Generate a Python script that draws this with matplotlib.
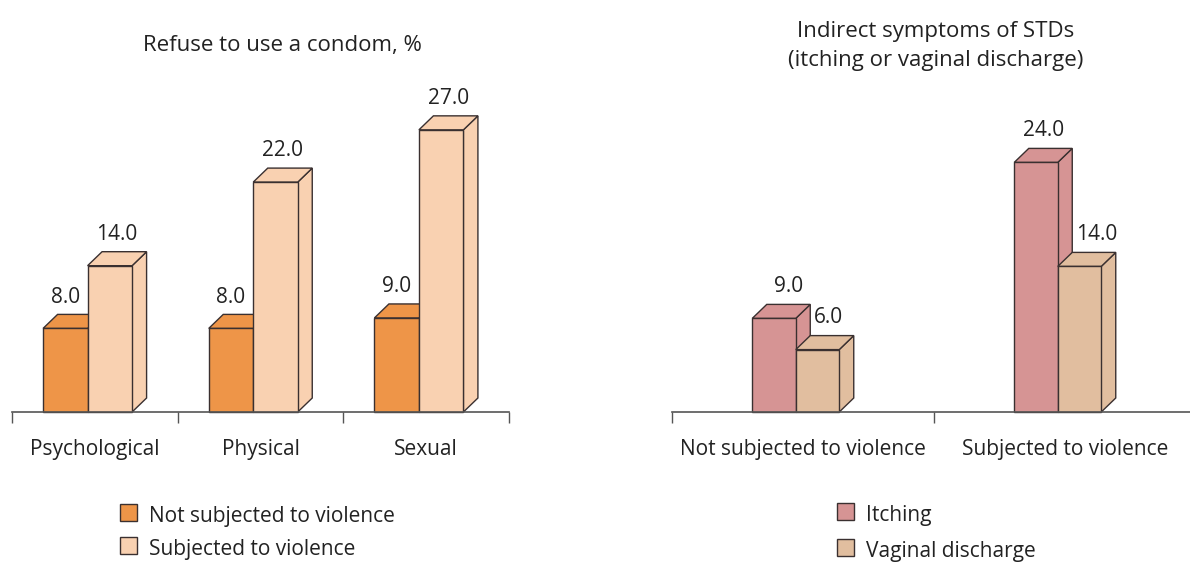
import matplotlib.pyplot as plt
from matplotlib.patches import Polygon, Rectangle

plt.rcParams['font.family'] = ['Open Sans', 'DejaVu Sans']

# Data
left_cats = ['Psychological', 'Physical', 'Sexual']
left_series = ['Not subjected to violence', 'Subjected to violence']
left_not = [8.0, 8.0, 9.0]
left_sub = [14.0, 22.0, 27.0]

right_cats = ['Not subjected to violence', 'Subjected to violence']
right_series = ['Itching', 'Vaginal discharge']
right_itch = [9.0, 24.0]
right_vag = [6.0, 14.0]

left_colors = ['#EE9548', '#F9D1B1']
right_colors = ['#D69494', '#E1BE9F']
edge = '#3a3030'
txt = '#222222'
fs = 15

W, H = 1190, 563
fig = plt.figure(figsize=(W / 100, H / 100), dpi=100)


def px_axes(x0, x1, base, ppu, ymax=30):
    # axes placed in pixel terms, baseline at 'base' px from top
    h = ymax * ppu
    return fig.add_axes([x0 / W, (H - base) / H, (x1 - x0) / W, h / H])


def bar3d(ax, x, w, h, dx, dy, color):
    front = [(x, 0), (x + w, 0), (x + w, h), (x, h)]
    top = [(x, h), (x + dx, h + dy), (x + w + dx, h + dy), (x + w, h)]
    side = [(x + w, 0), (x + w + dx, dy), (x + w + dx, h + dy), (x + w, h)]
    for pts in (side, top, front):
        ax.add_patch(Polygon(pts, closed=True, facecolor=color, edgecolor=edge,
                             linewidth=1.0, clip_on=False, joinstyle='miter'))


def style(ax, ncat, labels):
    ax.set_xlim(0, ncat)
    ax.set_ylim(0, 30)
    for s in ('top', 'right', 'left'):
        ax.spines[s].set_visible(False)
    ax.spines['bottom'].set_color('#555555')
    ax.spines['bottom'].set_linewidth(1.2)
    ax.set_yticks([])
    ax.set_xticks([i + 0.5 for i in range(ncat)])
    ax.set_xticklabels(labels, fontsize=fs, color=txt)
    ax.tick_params(axis='x', which='major', length=0, pad=19.5)
    ax.set_xticks(range(ncat + 1), minor=True)
    ax.tick_params(axis='x', which='minor', length=8, color='#555555', width=1)
    ax.patch.set_alpha(0)


def legend(x, ys, colors, labels):
    # small square swatches + text, in pixel coords from top-left
    for y, c, l in zip(ys, colors, labels):
        fig.add_artist(Rectangle((x / W, 1 - (y + 8.5) / H), 17 / W, 17 / H,
                                 transform=fig.transFigure, facecolor=c,
                                 edgecolor=edge, linewidth=1.0))
        fig.text((x + 29) / W, 1 - (y + 4) / H, l, ha='left', va='center',
                 fontsize=fs, color=txt)


# Left chart
ppu_l = 10.45
axl = px_axes(12, 509, 412, ppu_l)
cw = 497 / 3
bw = 44.5 / cw
dx = 14.5 / cw
dy = 14 / ppu_l
for i in range(3):
    x0 = i + 0.5 - bw - dx / 2
    for j, vals in enumerate([left_not, left_sub]):
        v = vals[i]
        bar3d(axl, x0 + j * bw, bw, v, dx, dy, left_colors[j])
        off = 0.0 if j == 0 else dx * 0.5
        axl.text(x0 + j * bw + bw / 2 + off, v + 3.0, f'{v:.1f}', ha='center',
                 va='center', fontsize=fs, color=txt)
style(axl, 3, left_cats)

# Right chart
ppu_r = 10.4
axr = px_axes(672, 1196, 412, ppu_r)
cw = 262
bw = 43.5 / cw
dx = 14.5 / cw
dy = 14 / ppu_r
for i in range(2):
    x0 = i + 0.5 - bw - dx / 2
    for j, vals in enumerate([right_itch, right_vag]):
        v = vals[i]
        bar3d(axr, x0 + j * bw, bw, v, dx, dy, right_colors[j])
        off = [[0.055, 0.04], [0.03, 0.065]][i][j]
        axr.text(x0 + j * bw + bw / 2 + off, v + 3.1, f'{v:.1f}', ha='center',
                 va='center', fontsize=fs, color=txt)
style(axr, 2, right_cats)

# Titles
fig.text(282 / W, 1 - 45 / H, 'Refuse to use a condom, %', ha='center',
         va='center', fontsize=16, color=txt)
fig.text(936 / W, 1 - 46 / H, 'Indirect symptoms of STDs\n(itching or vaginal discharge)',
         ha='center', va='center', fontsize=16, color=txt, linespacing=1.5)

# Legends
legend(120, [512.5, 545], left_colors, left_series)
legend(837, [511.5, 547], right_colors, right_series)

fig.savefig('out.png', dpi=100)
